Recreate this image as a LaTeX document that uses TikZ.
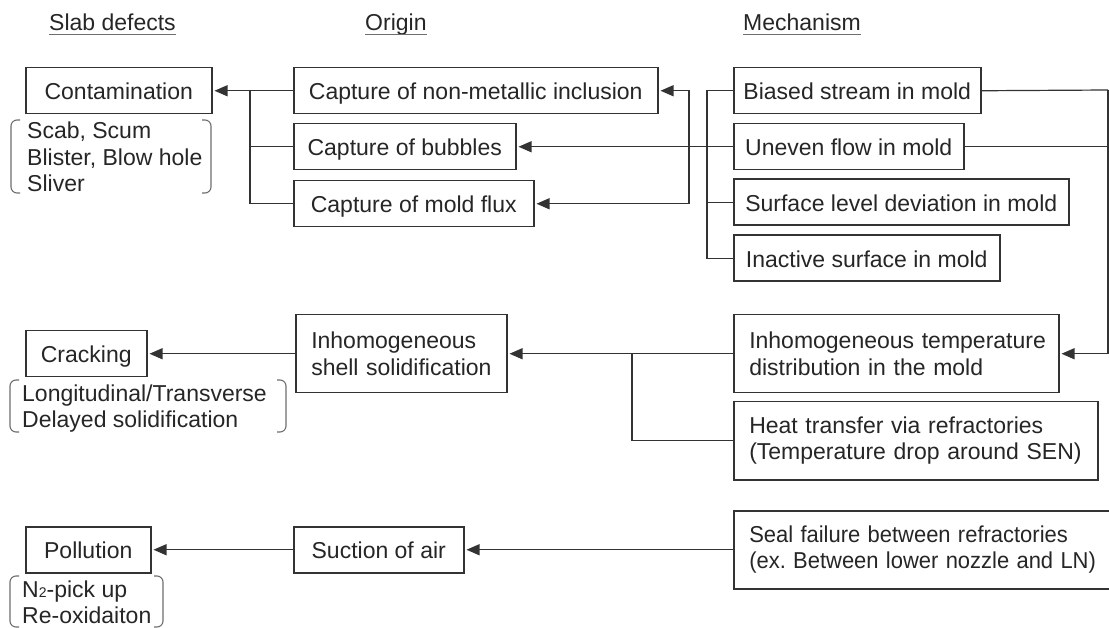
\documentclass[tikz,border=0pt]{standalone}
\usepackage{fontspec}
\usepackage{graphicx}
\setmainfont{Liberation Sans}
\usetikzlibrary{arrows.meta}
\definecolor{ink}{HTML}{262626}
\definecolor{lin}{HTML}{333333}
\definecolor{brk}{HTML}{6E6E6E}
\newcommand{\mybrk}[4]{%
  \draw[brkline] (#1+9,#2) -- (#1,#2) -- (#1,#4) -- (#1+9,#4);
  \draw[brkline] (#3-9,#2) -- (#3,#2) -- (#3,#4) -- (#3-9,#4);}
\newcommand{\sq}[1]{\mbox{\scalebox{0.955}[1]{#1}}}
\begin{document}
\begin{tikzpicture}[x=1pt,y=-1pt,
  font=\fontsize{23}{26.5}\selectfont,
  sbox/.style={draw=lin, line width=1.5pt, text=ink, inner xsep=6pt, inner ysep=0pt,
    anchor=north west, minimum height=46pt, text height=18pt, text depth=0pt, align=center},
  mbox/.style={draw=lin, line width=1.5pt, text=ink, inner xsep=15.5pt, inner ysep=0pt,
    anchor=north west, minimum height=78pt, align=left},
  conn/.style={draw=lin, line width=1.2pt},
  arr/.style={conn, -{Triangle[length=13pt,width=11pt]}, shorten >=2pt},
  brkline/.style={draw=brk, line width=1.1pt, rounded corners=6pt},
  head/.style={anchor=base west, inner sep=0pt, text=ink},
  ul/.style={draw=brk, line width=1pt},
  note/.style={anchor=base west, inner sep=0pt, text=ink},
  ]
\useasboundingbox (0,0) rectangle (1109,628);
\fill[white] (0,0) rectangle (1109,628);

% headings
\node[head] (h1) at (49,31) {Slab defects};
\node[head] (h2) at (365,31) {Origin};
\node[head] (h3) at (743,31) {Mechanism};
\foreach \h in {h1,h2,h3}
  \draw[ul] ([yshift=-4pt]\h.base west) -- ([yshift=-4pt]\h.base east);

% slab defects
\node[sbox, minimum width=186pt] (cont) at (25,67) {Contamination};
\node[sbox, minimum width=121pt] (crack) at (25,330) {Cracking};
\node[sbox, minimum width=125pt] (poll) at (25,526) {Pollution};

% defect notes
\mybrk{11}{120}{211}{193}
\node[note] (n1) at (27,139) {Scab, Scum};
\node[note] (n2) at (27,165.5) {Blister, Blow hole};
\node[note] (n3) at (27,192) {Sliver};
\mybrk{10}{380}{286}{432}
\node[note] (n4) at (22,402) {Longitudinal/Transverse};
\node[note] (n5) at (22,428) {Delayed solidification};
\mybrk{10}{576}{163}{627}
\node[note] (n6) at (22,597) {N\raisebox{0pt}{\fontsize{14}{14}\selectfont 2}-pick up};
\node[note] (n7) at (22,623) {Re-oxidaiton};

% origin
\node[sbox, minimum width=364pt] (inc) at (293,67) {Capture of non-metallic inclusion};
\node[sbox, minimum width=222pt] (bub) at (293,123) {Capture of bubbles};
\node[sbox, minimum width=240pt] (flux) at (293,180) {Capture of mold flux};
\node[mbox, text width=180pt] (shell) at (295,314) {\mbox{Inhomogeneous}\\\mbox{shell solidification}};
\node[sbox, minimum width=170pt] (suct) at (293,526) {Suction of air};

% mechanism
\node[sbox, minimum width=247pt] (bias) at (733,67) {Biased stream in mold};
\node[sbox, minimum width=230pt] (uneven) at (733,123) {Uneven flow in mold};
\node[sbox, minimum width=335pt] (surf) at (733,178.5) {Surface level deviation in mold};
\node[sbox, minimum width=266pt] (inact) at (733,234.5) {Inactive surface in mold};
\node[mbox, text width=294pt] (temp) at (733,314) {\mbox{Inhomogeneous temperature}\\\mbox{distribution in the mold}};
\node[mbox, text width=333pt] (heat) at (733,401) {\mbox{Heat transfer via refractories}\\\mbox{(Temperature drop around SEN)}};
\node[mbox, text width=346pt] (seal) at (733,510) {\sq{Seal failure between refractories}\\\sq{(ex.\ Between lower nozzle and LN)}};

% connectors: top group
\coordinate (j1) at (250,90);
\draw[arr] (inc.west) -- (cont.east);
\draw[conn] (j1) |- (bub.west);
\draw[conn] (j1) |- (flux.west);

\coordinate (m) at (707,90);
\draw[conn] (bias.west) -- (bias.west -| m) |- (inact.west);
\draw[conn] (surf.west) -- (surf.west -| m);
\draw[arr] (uneven.west) -- (bub.east);
\coordinate (c) at (689,146);
\draw[arr] (c) |- (inc.east);
\draw[arr] (c) |- (flux.east);

\coordinate (r) at (1108,90);
\draw[conn] (bias.east) -- (r);
\draw[conn] (uneven.east) -- (uneven.east -| r);
\draw[arr] (r) |- (temp.east);

% middle group
\draw[arr] (temp.west) -- (shell.east);
\draw[arr] (shell.west) -- (crack.east);
\coordinate (k) at (632,353);
\draw[conn] (k) |- (heat.west);

% bottom group
\draw[arr] (seal.west) -- (suct.east);
\draw[arr] (suct.west) -- (poll.east);
\end{tikzpicture}
\end{document}
